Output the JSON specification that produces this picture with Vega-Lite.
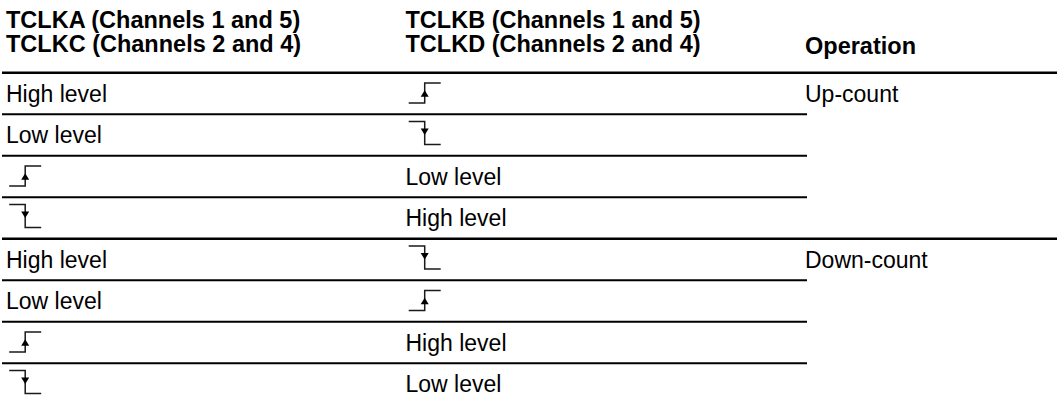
{
  "$schema": "https://vega.github.io/schema/vega-lite/v6.json",
  "width": 1059,
  "height": 404,
  "padding": 0,
  "autosize": {"type": "fit", "contains": "padding"},
  "background": "white",
  "config": {"view": {"stroke": null}, "font": "Liberation Sans"},
  "datasets": {
    "header": [
      {"col": "A", "line": 1, "label": "TCLKA (Channels 1 and 5)\nTCLKC (Channels 2 and 4)"},
      {"col": "B", "line": 1, "label": "TCLKB (Channels 1 and 5)\nTCLKD (Channels 2 and 4)"},
      {"col": "Op", "line": 2, "label": "Operation"}
    ],
    "cells": [
      {"row": 1, "col": "A", "kind": "text", "label": "High level"},
      {"row": 1, "col": "B", "kind": "rise", "label": ""},
      {"row": 1, "col": "Op", "kind": "text", "label": "Up-count"},
      {"row": 2, "col": "A", "kind": "text", "label": "Low level"},
      {"row": 2, "col": "B", "kind": "fall", "label": ""},
      {"row": 3, "col": "A", "kind": "rise", "label": ""},
      {"row": 3, "col": "B", "kind": "text", "label": "Low level"},
      {"row": 4, "col": "A", "kind": "fall", "label": ""},
      {"row": 4, "col": "B", "kind": "text", "label": "High level"},
      {"row": 5, "col": "A", "kind": "text", "label": "High level"},
      {"row": 5, "col": "B", "kind": "fall", "label": ""},
      {"row": 5, "col": "Op", "kind": "text", "label": "Down-count"},
      {"row": 6, "col": "A", "kind": "text", "label": "Low level"},
      {"row": 6, "col": "B", "kind": "rise", "label": ""},
      {"row": 7, "col": "A", "kind": "rise", "label": ""},
      {"row": 7, "col": "B", "kind": "text", "label": "High level"},
      {"row": 8, "col": "A", "kind": "fall", "label": ""},
      {"row": 8, "col": "B", "kind": "text", "label": "Low level"}
    ],
    "rules": [
      {"pos": 0.5, "span": "full", "from": "A", "to": "Op"},
      {"pos": 1.5, "span": "part", "from": "A", "to": "Op"},
      {"pos": 2.5, "span": "part", "from": "A", "to": "Op"},
      {"pos": 3.5, "span": "part", "from": "A", "to": "Op"},
      {"pos": 4.5, "span": "full", "from": "A", "to": "Op"},
      {"pos": 5.5, "span": "part", "from": "A", "to": "Op"},
      {"pos": 6.5, "span": "part", "from": "A", "to": "Op"},
      {"pos": 7.5, "span": "part", "from": "A", "to": "Op"}
    ]
  },
  "resolve": {"scale": {"y": "independent"}},
  "layer": [
    {
      "data": {"name": "header"},
      "transform": [{"filter": "datum.line === 1"}],
      "mark": {"type": "text", "align": "left", "baseline": "top", "dy": -19, "lineBreak": "\n", "lineHeight": 24, "fontSize": 23.5, "fontWeight": "bold", "color": "black", "font": "Liberation Sans"},
      "encoding": {
        "x": {"field": "col", "type": "nominal", "axis": null, "scale": {"type": "point", "domain": ["A", "B", "Op"], "range": [4, 803], "padding": 0}},
        "y": {"field": "line", "type": "quantitative", "axis": null, "scale": {"domain": [0, 3], "range": [4, 76], "nice": false, "zero": false}},
        "text": {"field": "label"}
      }
    },
    {
      "data": {"name": "header"},
      "transform": [{"filter": "datum.line === 2"}],
      "mark": {"type": "text", "align": "left", "baseline": "alphabetic", "dy": 1.5, "fontSize": 23.5, "fontWeight": "bold", "color": "black", "font": "Liberation Sans"},
      "encoding": {
        "x": {"field": "col", "type": "nominal", "axis": null, "scale": {"type": "point", "domain": ["A", "B", "Op"], "range": [4, 803], "padding": 0}},
        "y": {"field": "line", "type": "quantitative", "axis": null, "scale": {"domain": [0, 3], "range": [4, 76], "nice": false, "zero": false}},
        "text": {"field": "label"}
      }
    },
    {
      "data": {"name": "rules"},
      "transform": [{"filter": "datum.span === 'full'"}],
      "mark": {"type": "rule", "color": "black", "strokeWidth": 2.5},
      "encoding": {
        "x": {"value": 0},
        "x2": {"value": "width"},
        "y": {"field": "pos", "type": "quantitative", "axis": null, "scale": {"domain": [0, 8], "range": [52, 384], "nice": false, "zero": false}}
      }
    },
    {
      "data": {"name": "rules"},
      "transform": [{"filter": "datum.span === 'part'"}],
      "mark": {"type": "rule", "color": "black", "strokeWidth": 2, "xOffset": -4, "x2Offset": 2},
      "encoding": {
        "x": {"field": "from", "type": "nominal", "axis": null, "scale": {"type": "point", "domain": ["A", "B", "Op"], "range": [4, 803], "padding": 0}},
        "x2": {"field": "to"},
        "y": {"field": "pos", "type": "quantitative", "axis": null, "scale": {"domain": [0, 8], "range": [52, 384], "nice": false, "zero": false}}
      }
    },
    {
      "data": {"name": "cells"},
      "transform": [{"filter": "datum.kind === 'text'"}],
      "mark": {"type": "text", "align": "left", "baseline": "middle", "dy": 1, "fontSize": 23, "color": "black", "font": "Liberation Sans"},
      "encoding": {
        "x": {"field": "col", "type": "nominal", "axis": null, "scale": {"type": "point", "domain": ["A", "B", "Op"], "range": [4, 803], "padding": 0}},
        "y": {"field": "row", "type": "quantitative", "axis": null, "scale": {"domain": [0, 8], "range": [52, 384], "nice": false, "zero": false}},
        "text": {"field": "label"}
      }
    },
    {
      "data": {"name": "cells"},
      "transform": [{"filter": "datum.kind === 'rise'"}],
      "mark": {"type": "point", "shape": "M0.2,0.6H1.2V-0.65H2.2", "size": 1024, "filled": false, "stroke": "#1a1a1a", "strokeWidth": 1.5, "opacity": 1},
      "encoding": {
        "x": {"field": "col", "type": "nominal", "axis": null, "scale": {"type": "point", "domain": ["A", "B", "Op"], "range": [4, 803], "padding": 0}},
        "y": {"field": "row", "type": "quantitative", "axis": null, "scale": {"domain": [0, 8], "range": [52, 384], "nice": false, "zero": false}}
      }
    },
    {
      "data": {"name": "cells"},
      "transform": [{"filter": "datum.kind === 'rise'"}],
      "mark": {"type": "point", "shape": "M1.2,-0.2L1.45,0.2L0.95,0.2Z", "size": 1024, "filled": true, "fill": "black", "strokeWidth": 0, "opacity": 1},
      "encoding": {
        "x": {"field": "col", "type": "nominal", "axis": null, "scale": {"type": "point", "domain": ["A", "B", "Op"], "range": [4, 803], "padding": 0}},
        "y": {"field": "row", "type": "quantitative", "axis": null, "scale": {"domain": [0, 8], "range": [52, 384], "nice": false, "zero": false}}
      }
    },
    {
      "data": {"name": "cells"},
      "transform": [{"filter": "datum.kind === 'fall'"}],
      "mark": {"type": "point", "shape": "M0.2,-0.85H1.2V0.6H2.2", "size": 1024, "filled": false, "stroke": "#1a1a1a", "strokeWidth": 1.5, "opacity": 1},
      "encoding": {
        "x": {"field": "col", "type": "nominal", "axis": null, "scale": {"type": "point", "domain": ["A", "B", "Op"], "range": [4, 803], "padding": 0}},
        "y": {"field": "row", "type": "quantitative", "axis": null, "scale": {"domain": [0, 8], "range": [52, 384], "nice": false, "zero": false}}
      }
    },
    {
      "data": {"name": "cells"},
      "transform": [{"filter": "datum.kind === 'fall'"}],
      "mark": {"type": "point", "shape": "M0.95,-0.4L1.45,-0.4L1.2,0Z", "size": 1024, "filled": true, "fill": "black", "strokeWidth": 0, "opacity": 1},
      "encoding": {
        "x": {"field": "col", "type": "nominal", "axis": null, "scale": {"type": "point", "domain": ["A", "B", "Op"], "range": [4, 803], "padding": 0}},
        "y": {"field": "row", "type": "quantitative", "axis": null, "scale": {"domain": [0, 8], "range": [52, 384], "nice": false, "zero": false}}
      }
    }
  ]
}
